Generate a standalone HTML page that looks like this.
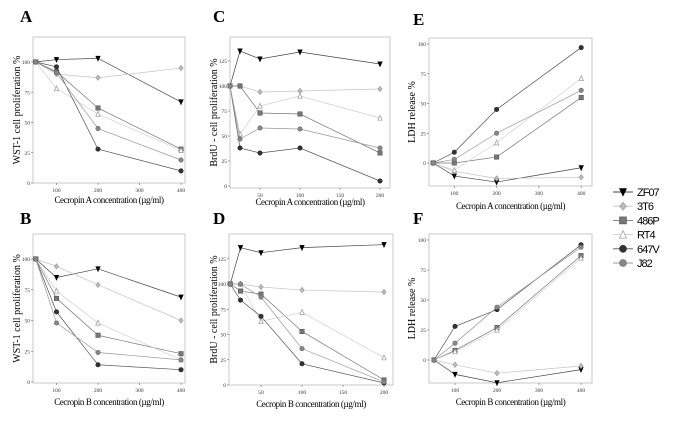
<!DOCTYPE html>
<html><head><meta charset="utf-8">
<style>
html,body{margin:0;padding:0;background:#fff;}
svg{display:block;font-family:"Liberation Serif",serif;}
</style></head>
<body>
<svg id="fig" width="685" height="428" viewBox="0 0 685 428" xmlns="http://www.w3.org/2000/svg"></svg>
<script>
const seriesNames=["ZF07","3T6","486P","RT4","647V","J82"];
const xA=[50,100,200,400];
const xC=[12.5,25,50,100,200];
const A_ZF07=[100,102,103,67],A_3T6=[100,90,87,95],A_486P=[100,92,62,28],A_RT4=[100,78,57,27],A_647V=[100,96,28,10],A_J82=[100,91,45,19];
const B_ZF07=[100,85,92,69],B_3T6=[100,94,79,50],B_486P=[100,68,38,23],B_RT4=[100,74,48,18],B_647V=[100,57,14,10],B_J82=[100,48,24,18];
const C_ZF07=[100,135,127,134,122],C_3T6=[100,100,94,95,97],C_486P=[100,100,73,72,33],C_RT4=[100,52,80,90,68],C_647V=[100,38,33,38,5],C_J82=[100,47,58,57,38];
const D_ZF07=[100,136,131,136,139],D_3T6=[100,100,97,94,92],D_486P=[100,93,90,53,5],D_RT4=[100,100,63,72,27],D_647V=[100,84,68,21,2],D_J82=[100,100,87,36,3];
const E_ZF07=[0,-11,-16,-4],E_3T6=[0,-7,-13,-12],E_486P=[0,0,5,55],E_RT4=[0,-6,17,71],E_647V=[0,9,45,97],E_J82=[0,3,25,61];
const F_ZF07=[0,-12,-19,-8],F_3T6=[0,-4,-11,-5],F_486P=[0,8,27,87],F_RT4=[0,7,25,85],F_647V=[0,28,42,96],F_J82=[0,14,44,94];
const yTicksWST=[0,25,50,75,100];
const yTicksBrdU=[0,25,50,75,100,125];
const yTicksLDH=[0,25,50,75,100];
const xTicksA=[100,200,300,400];
const xTicksC=[50,100,150,200];

const NS="http://www.w3.org/2000/svg";
const svg=document.getElementById('fig');
function mk(tag,attrs,parent){const e=document.createElementNS(NS,tag);for(const k in attrs)e.setAttribute(k,attrs[k]);(parent||svg).appendChild(e);return e;}
const styles={
 "ZF07":{c:"#000",fill:"#000",line:"#444",shape:"tridown"},
 "3T6":{c:"#999",fill:"#bbb",line:"#c4c4c4",shape:"diamond"},
 "486P":{c:"#555",fill:"#777",line:"#777",shape:"square"},
 "RT4":{c:"#999",fill:"#fff",line:"#d0d0d0",shape:"triup"},
 "647V":{c:"#222",fill:"#333",line:"#555",shape:"circle"},
 "J82":{c:"#666",fill:"#888",line:"#999",shape:"circle"}
};
function marker(g,shape,x,y,st,r){
 r=r||2.2;let e;
 if(shape==="circle")e=mk('circle',{cx:x,cy:y,r:r,fill:st.fill,stroke:st.c,'stroke-width':0.6},g);
 else if(shape==="square")e=mk('rect',{x:x-r,y:y-r,width:2*r,height:2*r,fill:st.fill,stroke:st.c,'stroke-width':0.6},g);
 else if(shape==="diamond")e=mk('polygon',{points:`${x},${y-r-0.5} ${x+r},${y} ${x},${y+r+0.5} ${x-r},${y}`,fill:st.fill,stroke:st.c,'stroke-width':0.6},g);
 else if(shape==="triup")e=mk('polygon',{points:`${x},${y-r-0.5} ${x+r},${y+r} ${x-r},${y+r}`,fill:st.fill,stroke:st.c,'stroke-width':0.7},g);
 else e=mk('polygon',{points:`${x-r},${y-r} ${x+r},${y-r} ${x},${y+r+0.5}`,fill:st.fill,stroke:st.c,'stroke-width':0.6},g);
 return e;
}
function panel(p){
 const g=mk('g',{});
 
 
 const sx=v=>p.xa+p.xb*v, sy=v=>p.yc-p.yd*v;
 const fr=mk('rect',{x:p.f[0],y:p.f[1],width:p.f[2]-p.f[0],height:p.f[3]-p.f[1],fill:'none',stroke:'#bbb','stroke-width':0.8},g);
 
 
 p.yt.forEach(v=>{
  mk('line',{x1:p.f[0]-2,x2:p.f[0],y1:sy(v),y2:sy(v),stroke:'#666','stroke-width':0.6},g);
  const t=mk('text',{x:p.f[0]-3,y:sy(v)+2,'font-size':5.5,'text-anchor':'end',fill:'#333'},g);
  t.textContent=v;
  
  
 });
 p.xt.forEach(v=>{
  mk('line',{x1:sx(v),x2:sx(v),y1:p.f[3],y2:p.f[3]+2,stroke:'#666','stroke-width':0.6},g);
  const t=mk('text',{x:sx(v),y:p.f[3]+9,'font-size':5.5,'text-anchor':'middle',fill:'#333'},g);
  t.textContent=v;
  
  
 });
 seriesNames.forEach((n,i)=>{
  const st=styles[n],vals=p.data[i];
  const pts=vals.map((v,j)=>sx(p.xs[j])+','+sy(v)).join(' ');
  const l=mk('polyline',{points:pts,fill:'none',stroke:st.line,'stroke-width':0.7},g);
  
  
  vals.forEach((v,j)=>{
   const m=marker(g,st.shape,sx(p.xs[j]),sy(v),st);
   
   
  });
 });
 const lt=mk('text',{x:p.lx,y:p.ly,'font-size':17,'font-weight':'bold'},g);
 lt.textContent=p.letter;
 
 
 const xt=mk('text',{x:(p.f[0]+p.f[2])/2,y:p.xty,'font-size':9,'text-anchor':'middle','letter-spacing':'-0.4'},g);
 xt.textContent=p.xtitle;
 
 
 const ymid=(p.f[1]+p.f[3])/2;
 const yt=mk('text',{x:p.ytx,y:ymid,'font-size':10,'text-anchor':'middle',transform:`rotate(-90 ${p.ytx} ${ymid})`},g);
 yt.textContent=p.ytitle;
 
 
}
const wst="WST-1 cell proliferation %", brdu="BrdU - cell proliferation %", ldh="LDH release %";
panel({name:'panel-a',letter:'A',lx:20,ly:22,f:[33,37,185,183],xa:15,xb:0.415,yc:183,yd:1.21,xs:xA,yt:yTicksWST,xt:xTicksA,data:[A_ZF07,A_3T6,A_486P,A_RT4,A_647V,A_J82],xtitle:'Cecropin A concentration (µg/ml)',xty:203,ytitle:wst,ytx:20});
panel({name:'panel-b',letter:'B',lx:20,ly:224,f:[33,234,185,383],xa:15,xb:0.415,yc:382,yd:1.23,xs:xA,yt:yTicksWST,xt:xTicksA,data:[B_ZF07,B_3T6,B_486P,B_RT4,B_647V,B_J82],xtitle:'Cecropin B concentration (µg/ml)',xty:405,ytitle:wst,ytx:20});
panel({name:'panel-c',letter:'C',lx:213,ly:22,f:[230,37,390,188],xa:220,xb:0.8,yc:186,yd:1.0,xs:xC,yt:yTicksBrdU,xt:xTicksC,data:[C_ZF07,C_3T6,C_486P,C_RT4,C_647V,C_J82],xtitle:'Cecropin A concentration (µg/ml)',xty:205,ytitle:brdu,ytx:217});
panel({name:'panel-d',letter:'D',lx:213,ly:224,f:[229,234,393,385],xa:220,xb:0.82,yc:385,yd:1.01,xs:xC,yt:yTicksBrdU,xt:xTicksC,data:[D_ZF07,D_3T6,D_486P,D_RT4,D_647V,D_J82],xtitle:'Cecropin B concentration (µg/ml)',xty:407,ytitle:brdu,ytx:217});
panel({name:'panel-e',letter:'E',lx:413,ly:25,f:[429,38,592,186],xa:412,xb:0.423,yc:163,yd:1.19,xs:xA,yt:yTicksLDH,xt:xTicksA,data:[E_ZF07,E_3T6,E_486P,E_RT4,E_647V,E_J82],xtitle:'Cecropin A concentration (µg/ml)',xty:209,ytitle:ldh,ytx:415});
panel({name:'panel-f',letter:'F',lx:413,ly:224,f:[429,234,592,383],xa:413,xb:0.42,yc:360,yd:1.2,xs:xA,yt:yTicksLDH,xt:xTicksA,data:[F_ZF07,F_3T6,F_486P,F_RT4,F_647V,F_J82],xtitle:'Cecropin B concentration (µg/ml)',xty:405,ytitle:ldh,ytx:415});
const lg=mk('g',{});


seriesNames.forEach((n,i)=>{
 const st=styles[n],y=192+i*14.2;
 const e=mk('g',{},lg);
 
 
 mk('line',{x1:613,x2:633,y1:y,y2:y,stroke:st.line,'stroke-width':0.9},e);
 marker(e,st.shape,623,y,st,3.5);
 const t=mk('text',{x:637,y:y+4,'font-size':11,'font-family':'Liberation Sans, sans-serif','letter-spacing':'-1'},e);
 t.textContent=n;
});
</script>
</body></html>
